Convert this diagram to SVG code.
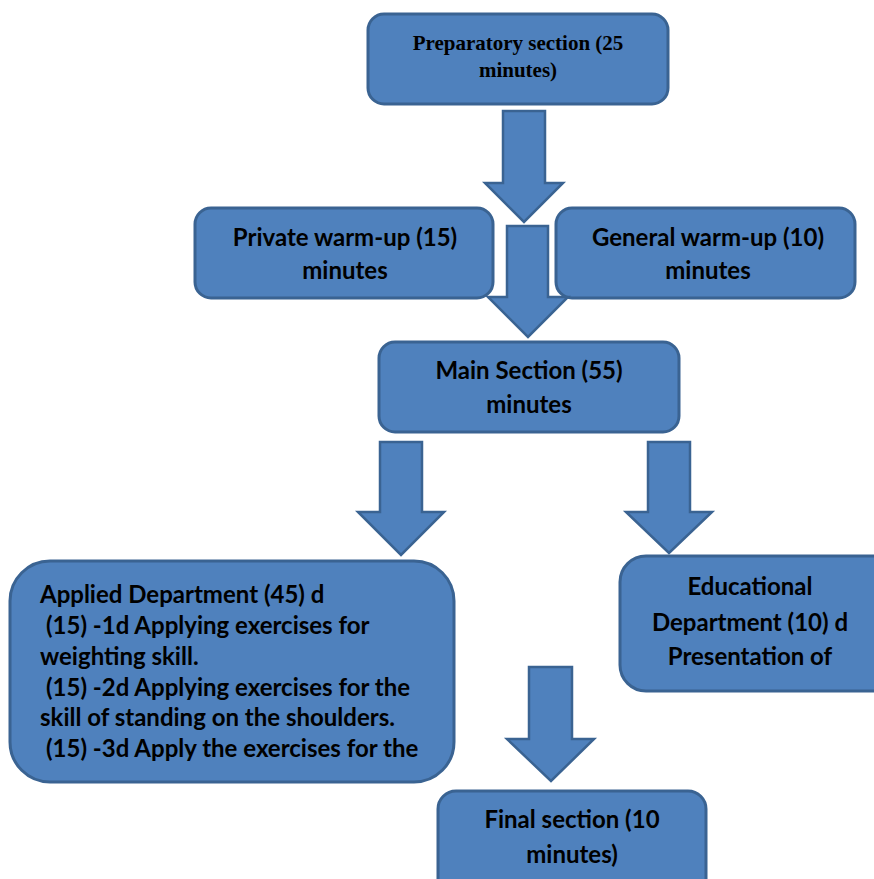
<svg xmlns="http://www.w3.org/2000/svg" width="874" height="879" viewBox="0 0 874 879">
<style>
.box{fill:#4F81BD;stroke:#3A6392;stroke-width:3}
.arr{fill:#4F81BD;stroke:#3A6392;stroke-width:2.5;stroke-linejoin:miter}
.t{font-family:Lato,"Open Sans",sans-serif;font-weight:bold;font-size:24px;fill:#000}
.c{text-anchor:middle}
.tr{font-family:"Liberation Serif",serif;font-weight:bold;font-size:21px;fill:#000;text-anchor:middle}
</style>
<rect width="874" height="879" fill="#fff"/>
<g id="prep">
<rect class="box" x="368" y="14" width="300" height="90" rx="16"/>
<text class="tr" x="518" y="50">Preparatory section (25</text>
<text class="tr" x="518" y="77">minutes)</text>
</g>
<g id="private">
<rect class="box" x="195" y="208" width="298" height="90" rx="16"/>
<text class="t c" x="345" y="246">Private warm-up (15)</text>
<text class="t c" x="345" y="279">minutes</text>
</g>
<g id="general">
<rect class="box" x="556" y="208" width="299" height="90" rx="16"/>
<text class="t c" x="708" y="246">General warm-up (10)</text>
<text class="t c" x="708" y="279">minutes</text>
</g>
<g id="main">
<rect class="box" x="379" y="342" width="300" height="90" rx="16"/>
<text class="t c" x="529" y="379">Main Section (55)</text>
<text class="t c" x="529" y="413">minutes</text>
</g>
<g id="applied">
<rect class="box" x="10" y="561" width="444" height="221" rx="40"/>
<text class="t" x="40" y="603">Applied Department (45) d</text>
<text class="t" x="46" y="634">(15) -1d Applying exercises for</text>
<text class="t" x="40" y="665">weighting skill.</text>
<text class="t" x="46" y="696">(15) -2d Applying exercises for the</text>
<text class="t" x="40" y="726">skill of standing on the shoulders.</text>
<text class="t" x="46" y="757">(15) -3d Apply the exercises for the</text>
</g>
<g id="educational">
<rect class="box" x="620" y="556" width="280" height="135" rx="26"/>
<text class="t c" x="750" y="595">Educational</text>
<text class="t c" x="750" y="631">Department (10) d</text>
<text class="t c" x="750" y="665">Presentation of</text>
</g>
<g id="final">
<rect class="box" x="438" y="791" width="268" height="110" rx="18"/>
<text class="t c" x="572" y="828">Final section (10</text>
<text class="t c" x="572" y="863">minutes)</text>
</g>
<g id="connectors">
<polygon class="arr" points="503,111 545,111 545,183 563,183 524,222 485,183 503,183"/>
<polygon class="arr" points="507,226 548,226 548,297 568,297 528,337 488,297 507,297"/>
<polygon class="arr" points="380,442 422,442 422,512 444,512 401,555 358,512 380,512"/>
<polygon class="arr" points="648,442 690,442 690,512 712,512 669,553 626,512 648,512"/>
<polygon class="arr" points="529,667 572,667 572,739 594,739 551,781 507,739 529,739"/>
</g>
</svg>
